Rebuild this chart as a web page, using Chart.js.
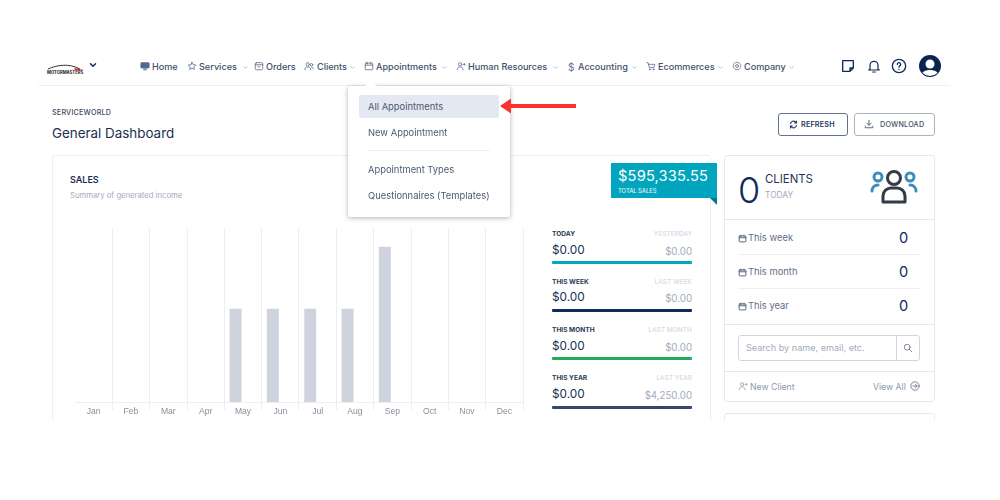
<!DOCTYPE html>
<html>
<head>
<meta charset="utf-8">
<title>General Dashboard</title>
<script src="https://cdn.jsdelivr.net/npm/chart.js@4"></script>
<style>
  html, body { margin: 0; padding: 0; background: #fff; overflow: hidden; }
  body { font-family: "Inter", "Noto Sans", sans-serif; color: #3d4d6a; }
  #page { position: absolute; left: 0; top: 0; width: 1000px; height: 420px; overflow: hidden; }
  .box { position: absolute; box-sizing: border-box; }
  .txt { position: absolute; white-space: nowrap; transform: translateY(-40%); line-height: 1; }
  svg { position: absolute; overflow: visible; }
  #salesWrap { position: absolute; left: 60px; top: 220px; width: 475px; height: 205px; }
</style>
</head>
<body>
<div id="page">
  <div id="salesWrap"><canvas id="salesChart"></canvas></div>
</div>
<script>
const months = ["Jan", "Feb", "Mar", "Apr", "May", "Jun", "Jul", "Aug", "Sep", "Oct", "Nov", "Dec"];
const salesThisYear = [0, 0, 0, 0, 3000, 3000, 3000, 3000, 5000, 0, 0, 0];
const salesLastYear = [0, 0, 0, 0, 0, 0, 0, 0, 0, 0, 0, 0];

const navLabels = ["Home", "Services", "Orders", "Clients", "Appointments", "Human Resources", "Accounting", "Ecommerces", "Company"];
const navTextX = [152, 199, 266, 317, 376, 468, 578, 658, 744];
const navIconX = [145, 192, 259, 309, 369, 461, 570, 651, 737];
const navCaretX = [0, 245, 0, 352, 444, 555, 634, 720, 791];
const menuLabels = ["All Appointments", "New Appointment", "Appointment Types", "Questionnaires (Templates)"];
const menuY = [106, 132, 169, 195];

const statLabels = ["TODAY", "THIS WEEK", "THIS MONTH", "THIS YEAR"];
const statPrevLabels = ["YESTERDAY", "LAST WEEK", "LAST MONTH", "LAST YEAR"];
const statValues = ["$0.00", "$0.00", "$0.00", "$0.00"];
const statPrevValues = ["$0.00", "$0.00", "$0.00", "$4,250.00"];
const statColors = ["#01a9c0", "#0f2a5c", "#23ab5f", "#36466f"];
const statLabelY = [234, 282, 330, 378];
const statValueY = [250, 297, 346, 394];
const statBarY = [260.5, 308.5, 357, 405.5];

const clientRows = ["This week", "This month", "This year"];
const clientCounts = ["0", "0", "0"];
const clientRowY = [237, 271, 305];

const page = document.getElementById("page");

function box(x, y, w, h, css) {
  const d = document.createElement("div");
  d.className = "box";
  d.style.cssText = `left:${x}px;top:${y}px;width:${w}px;height:${h}px;${css || ""}`;
  page.appendChild(d);
}

function text(str, x, y, size, color, css) {
  const d = document.createElement("div");
  d.className = "txt";
  d.textContent = str;
  d.style.cssText = `left:${x}px;top:${y}px;font-size:${size}px;color:${color};${css || ""}`;
  page.appendChild(d);
}

function icon(x, y, size, inner, color, width) {
  const wrap = document.createElement("div");
  wrap.innerHTML = `<svg xmlns="http://www.w3.org/2000/svg" viewBox="0 0 24 24" width="${size}" height="${size}" fill="none" stroke="${color || "#6b7a92"}" stroke-width="${width || 2}" stroke-linecap="round" stroke-linejoin="round" style="left:${x - size / 2}px;top:${y - size / 2}px">${inner}</svg>`;
  page.appendChild(wrap.firstChild);
}

const ICONS = {
  screen: '<rect x="2" y="4" width="20" height="13" rx="2" fill="#4d6a92"/><path d="M8 21h8M12 17v4"/>',
  star: '<path d="M12 3l2.8 5.8 6.2.9-4.5 4.4 1 6.3-5.5-3-5.5 3 1-6.3L3 9.7l6.2-.9z"/>',
  order: '<rect x="3" y="4" width="18" height="17" rx="3"/><path d="M3 9h18M9 13l3 2 3-2"/>',
  users: '<circle cx="9" cy="8" r="4"/><circle cx="18" cy="9" r="3"/><path d="M2 21c0-5 3-7 7-7s7 2 7 7M18 14c2.500 0 4 2 4 5"/>',
  calendar: '<rect x="3" y="5" width="18" height="16" rx="2"/><path d="M3 10h18M8 3v4M16 3v4"/>',
  userPlus: '<circle cx="10" cy="8" r="4"/><path d="M3 21c0-5 3-7 7-7s7 2 7 7M18 8h4M20 6v4"/>',
  cart: '<path d="M2 4h3l3 12h11l2-8H6"/><circle cx="9" cy="20" r="1.200"/><circle cx="18" cy="20" r="1.200"/>',
  gear: '<circle cx="12" cy="12" r="3.500"/><circle cx="12" cy="12" r="9" stroke-dasharray="3 1.500"/>',
  caret: '<path d="M6 9l6 6 6-6"/>'
};
const navIcons = ["screen", "star", "order", "users", "calendar", "userPlus", null, "cart", "gear"];

// ------------------ Header ------------------
box(38, 85, 912, 1, "background:#eef0f5");
page.insertAdjacentHTML("beforeend", '<svg width="40" height="10" style="left:47px;top:62px"><path d="M1 7 C10 3 22 1 33 7" fill="none" stroke="#333" stroke-width="1"/><path d="M27 6 L37 8 L28 8 Z" fill="#d22"/></svg>');
text("MOTORMASTERS", 47, 73, 4.2, "#222", "font-weight:700");
icon(93, 65, 10, ICONS.caret, "#0f2a5c", 3.5);

navLabels.forEach((label, i) => {
  text(label, navTextX[i], 66, 9.1, "#3f4f6b", "font-weight:500");
  if (navIcons[i]) icon(navIconX[i], 66, 10, ICONS[navIcons[i]], "#5f7190");
  if (navCaretX[i]) icon(navCaretX[i], 67, 7, ICONS.caret, "#8d99ad");
});
text("$", 568, 66, 10, "#5f7190");

icon(848, 66, 16, '<path d="M4 4h16v11l-5 5H4z M15 20v-5h5"/>', "#0f2a5c", 2);
icon(874, 66, 16, '<path d="M6 17V11a6 6 0 0 1 12 0v6l2 1H4zM10 21h4"/>', "#0f2a5c", 1.800);
icon(899, 66, 16, '<circle cx="12" cy="12" r="10"/><path d="M9.500 9.500a2.500 2.500 0 1 1 3.500 2.300c-.7.400-1 1-1 2"/><path d="M12 17v.2"/>', "#0f2a5c", 2);
page.insertAdjacentHTML("beforeend", '<svg width="22" height="22" style="left:919px;top:55px"><circle cx="11" cy="11" r="11" fill="#0c2350"/><circle cx="11" cy="9" r="4.500" fill="#fff"/><path d="M3.500 18c1.500-4 13.500-4 15 0a11 11 0 0 1-15 0z" fill="#fff"/></svg>');

// ------------------ Title row ------------------
text("SERVICEWORLD", 52, 112, 7.2, "#3c4a63", "font-weight:500;letter-spacing:.2px");
text("General Dashboard", 52, 131.5, 13.4, "#1b2f52");
box(778, 113, 70, 23, "border:1.4px solid #5f7391;border-radius:3px");
icon(793, 124, 9, '<path d="M4 10a8 8 0 0 1 14-4l2 2M20 14a8 8 0 0 1-14 4l-2-2M20 3v5h-5M4 21v-5h5"/>', "#1f3558", 3);
text("REFRESH", 801, 124, 7.2, "#1f3558", "font-weight:600;letter-spacing:.2px");
box(854, 113, 81, 23, "border:1.4px solid #aab4c4;border-radius:3px");
icon(869, 124, 10, '<path d="M12 3v12M7 10l5 5 5-5M3 17v4h18v-4"/>', "#3f4f6b", 2);
text("DOWNLOAD", 880, 124, 7.2, "#3f4f6b", "font-weight:500;letter-spacing:.2px");

// ------------------ Cards ------------------
box(52, 155, 659, 300, "border:1px solid #eceef4;border-radius:3px;z-index:-1");
box(724, 155, 211, 247, "border:1px solid #e6e9f0;border-radius:3px");
box(724, 413, 211, 40, "border:1px solid #e6e9f0;border-radius:3px");

text("SALES", 70, 178.5, 9, "#1b2f52", "font-weight:600");
text("Summary of generated income", 70, 195, 7.7, "#a2acbb");

box(611, 163, 106, 35, "background:#01a5bd");
page.insertAdjacentHTML("beforeend", '<svg width="7" height="7" style="left:710px;top:198px"><path d="M0 0H7V0L7 7L0 0Z" fill="#01788c"/></svg>');
text("$595,335.55", 618, 174.5, 14.6, "#fff", "font-weight:400;letter-spacing:.2px");
text("TOTAL SALES", 618, 190, 5.8, "#e2f5f8", "font-weight:500");

statLabels.forEach((label, i) => {
  text(label, 552, statLabelY[i], 6.6, "#2c3a55", "font-weight:700");
  text(statPrevLabels[i], 0, statLabelY[i], 6.6, "#cbd3df", "left:auto;right:308px");
  text(statValues[i], 552, statValueY[i], 11.8, "#1b2f52");
  text(statPrevValues[i], 0, statValueY[i] + 1, 9.7, "#a2acbb", "left:auto;right:308px");
  box(552, statBarY[i], 140, 3, `background:${statColors[i]};border-radius:1px`);
});

// ------------------ Clients card ------------------
text("0", 738, 186, 36, "#0f2a5c", "font-weight:300");
text("CLIENTS", 765, 178.5, 11.4, "#1f3558");
text("TODAY", 765, 194, 8.4, "#a2acbb");
page.insertAdjacentHTML("beforeend", `<svg width="48" height="36" viewBox="0 0 48 36" style="left:870px;top:169px" fill="none" stroke-linecap="round" stroke-width="3">
  <circle cx="8" cy="8" r="4" stroke="#3b8fb5"/><circle cx="40" cy="8" r="4" stroke="#3b8fb5"/>
  <path d="M2 22c0-4 3-6 6-6M46 22c0-4-3-6-6-6" stroke="#3b8fb5"/>
  <circle cx="24" cy="9" r="6.500" stroke="#333b47"/>
  <path d="M13 33v-6c0-5 4-8 8-8h6c4 0 8 3 8 8v6z" stroke="#333b47" stroke-linejoin="round"/></svg>`);
box(724, 219, 211, 1, "background:#e6e9f0");
box(738, 254, 182, 1, "background:#edeff4");
box(738, 288, 182, 1, "background:#edeff4");
box(724, 324, 211, 1, "background:#e6e9f0");
box(724, 371, 211, 1, "background:#e6e9f0");
clientRows.forEach((label, i) => {
  icon(742, clientRowY[i] + 1, 9, ICONS.calendar, "#4b5b75", 2.4);
  text(label, 748, clientRowY[i], 9.4, "#5f6e86");
  text(clientCounts[i], 899, clientRowY[i], 14.6, "#0f2a5c");
});
box(738, 335, 182, 26, "border:1px solid #cfd6e2;border-radius:3px");
box(896, 335, 1, 26, "background:#cfd6e2");
text("Search by name, email, etc.", 746, 347, 9.1, "#a2acbb");
icon(908, 348, 10, '<circle cx="10" cy="10" r="7"/><path d="M15 15l6 6"/>', "#7d8aa0", 2.400);
icon(743, 386, 10, ICONS.userPlus, "#8d99ad", 1.800);
text("New Client", 750, 385.5, 8.7, "#8d99ad");
text("View All", 873, 385.5, 8.7, "#8d99ad");
icon(915, 386, 10, '<circle cx="12" cy="12" r="10"/><path d="M7 12h10M13 8l4 4-4 4"/>', "#5f6e86", 2);

// ------------------ Dropdown ------------------
box(348, 86, 162, 131, "background:#fff;border-radius:2px;box-shadow:0 1px 5px rgba(30,40,70,.35);z-index:3");
page.insertAdjacentHTML("beforeend", '<svg width="14" height="6" style="left:364px;top:81px;z-index:4"><path d="M0 6L7 0L14 6Z" fill="#fff"/></svg>');
box(359, 95, 140, 23, "background:#e4e8f2;border-radius:2px;z-index:4");
menuLabels.forEach((label, i) => {
  text(label, 368, menuY[i], 9.4, "#4a5a74", "z-index:5");
});
box(368, 150, 122, 1, "background:#edeff4;z-index:5");
page.insertAdjacentHTML("beforeend", '<svg width="80" height="18" style="left:498px;top:97px;z-index:6"><path d="M2 9L13 1.500V7H78V11H13V16.500Z" fill="#f93232"/></svg>');

// ------------------ Sales Chart ------------------
new Chart(document.getElementById("salesChart"), {
  type: "bar",
  data: {
    labels: months,
    datasets: [
      { label: "This year", data: salesThisYear, backgroundColor: "#ced3dd", barPercentage: 0.8, categoryPercentage: 0.8 },
      { label: "Last year", data: salesLastYear, backgroundColor: "#e4e7ed", barPercentage: 0.8, categoryPercentage: 0.8 }
    ]
  },
  options: {
    responsive: true,
    maintainAspectRatio: false,
    animation: false,
    layout: { padding: { left: 15, right: 12, top: 8, bottom: 0 } },
    plugins: { legend: { display: false }, tooltip: { enabled: false } },
    scales: {
      x: {
        afterFit: scale => { scale.height = 23; },
        grid: {
          color: ctx => (ctx.index === 0 || ctx.index === months.length ? "rgba(0,0,0,0)" : "#eceef2"),
          tickLength: 8
        },
        border: { color: "#eceef2", width: 1 },
        ticks: { color: "#8b8f97", font: { family: "Liberation Sans", size: 8.6 }, padding: -4, maxRotation: 0 }
      },
      y: { display: false, min: 0, max: 5600 }
    }
  }
});
</script>
</body>
</html>
